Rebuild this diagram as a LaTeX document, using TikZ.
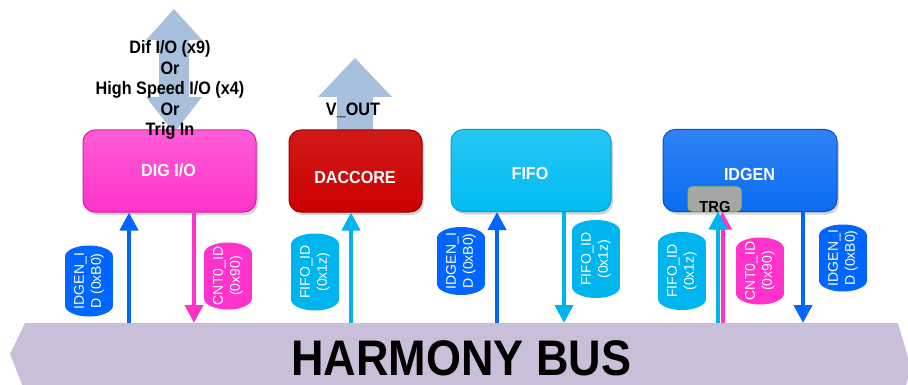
\documentclass[tikz,border=0pt]{standalone}
\usepackage{fontspec}
\setmainfont{Liberation Sans}
\usetikzlibrary{arrows.meta,shadows}

\definecolor{digc}{HTML}{FF33CC}
\definecolor{digd}{HTML}{D81CA8}
\definecolor{dacc}{HTML}{CC0000}
\definecolor{dacd}{HTML}{9A0000}
\definecolor{fifoc}{HTML}{00BCF2}
\definecolor{fifod}{HTML}{0A9ED0}
\definecolor{idgc}{HTML}{0A6CF2}
\definecolor{idgd}{HTML}{0650C0}
\definecolor{pblue}{HTML}{0066FF}
\definecolor{pcyan}{HTML}{00B4EE}
\definecolor{pmag}{HTML}{FF33CC}
\definecolor{bigarrow}{HTML}{A8C0DE}
\definecolor{busc}{HTML}{C9BFD9}
\definecolor{trgc}{HTML}{A6A6A6}
\definecolor{trgd}{HTML}{9BBB59}

% a vertical pill (elliptic ends) with rotated two-line label
\newcommand\idpill[6]{%
  \fill[#5] (#2-24,#3-#4/2+11) rectangle (#2+24,#3+#4/2-11);
  \fill[#5] (#2,#3-#4/2+11) ellipse [x radius=24, y radius=11];
  \fill[#5] (#2,#3+#4/2-11) ellipse [x radius=24, y radius=11];
  \node[pilltext] (#1) at (#2,#3) {#6};}

\begin{document}
\begin{tikzpicture}[x=1pt,y=-1pt,
  block/.style={rectangle, rounded corners=12pt, inner sep=0pt,
    minimum height=82pt, line width=1pt,
    drop shadow={shadow xshift=2pt, shadow yshift=-3pt, opacity=0.35}},
  blocktext/.style={anchor=base, text=white, xscale=0.92,
    font=\bfseries\fontsize{17.5}{20}\selectfont},
  pilltext/.style={rotate=90, text=white, align=center, inner sep=0pt,
    font=\fontsize{14}{17}\selectfont},
  busarrow/.style={line width=4pt, -{Triangle[width=18pt,length=18pt]}},
  blacktext/.style={text=black, xscale=0.9,
    font=\bfseries\fontsize{18}{20.5}\selectfont}]

\useasboundingbox (0,0) rectangle (908,385);

% the bus
\begin{scope}
  \clip (0,0) rectangle (908,385);
  \fill[busc] (25,323) -- (898,323) -- (911,368) -- (904,392)
     -- (25,392) -- (10,354) -- cycle;
\end{scope}
\node[text=black, xscale=0.9, anchor=base,
  font=\bfseries\fontsize{50}{50}\selectfont] (bus) at (461.5,375) {HARMONY BUS};

% wide outlines of external signals
\fill[bigarrow] (174,9) -- (202,40) -- (189,40) -- (189,97) -- (202,97)
  -- (174,133) -- (146,97) -- (159,97) -- (159,40) -- (146,40) -- cycle;
\fill[bigarrow] (355,58) -- (392,97) -- (373,97) -- (373,135)
  -- (337,135) -- (337,97) -- (318,97) -- cycle;

% blocks
\node[block, minimum width=173pt, draw=digd,
  top color=digc!80!white, bottom color=digc] (dig) at (169.5,171) {};
\node[block, minimum width=133pt, draw=dacd,
  top color=dacc!90!white, bottom color=dacc] (dac) at (355.5,171) {};
\node[block, minimum width=160pt, draw=fifod,
  top color=fifoc!85!white, bottom color=fifoc] (fifo) at (531,170.5) {};
\node[block, minimum width=174pt, draw=idgd,
  top color=idgc!85!white, bottom color=idgc] (idgen) at (750,170.5) {};

\node[blocktext] (digt) at (168.5,177) {DIG I/O};
\node[blocktext] (dact) at (355,184) {DACCORE};
\node[blocktext] (fifot) at (530,179) {FIFO};
\node[blocktext] (idgent) at (749.5,180) {IDGEN};

% trigger sub-block
\node[rectangle, rounded corners=4pt, fill=trgc, draw=trgd, line width=1pt,
  minimum width=53pt, minimum height=24pt, inner sep=0pt] (trg) at (714.5,199) {};
\node[anchor=base, text=black, xscale=0.92,
  font=\bfseries\fontsize{16}{18}\selectfont] (trgt) at (715,212) {TRG};

% external signal labels
\node[blacktext, align=center] (dio) at (170,90)
  {Dif I/O (x9)\\Or\\High Speed I/O (x4)\\Or\\Trig In};
\node[blacktext, anchor=base] (vout) at (353,116) {V\_OUT};

% bus taps
\coordinate (t1) at (129,323);
\coordinate (t2) at (194,323);
\coordinate (t3) at (351,323);
\coordinate (t4) at (497,323);
\coordinate (t5) at (564,323);
\coordinate (t6) at (718,323);
\coordinate (t7) at (722.5,323);
\coordinate (t8) at (803,323);

\draw[busarrow, pblue] (t1) -- (t1 |- dig.south);
\draw[busarrow, pmag] (dig.south -| t2) -- (t2);
\draw[busarrow, pcyan] (t3) -- (t3 |- dac.south);
\draw[busarrow, pblue] (t4) -- (t4 |- fifo.south);
\draw[busarrow, pcyan] (fifo.south -| t5) -- (t5);
\draw[busarrow, pmag] (t7) -- (t7 |- trg.south);
\draw[busarrow, pcyan] (t6) -- (t6 |- trg.south);
\draw[busarrow, pblue] (idgen.south -| t8) -- (t8);

% ID tags
\idpill{p1}{89}{281}{71}{pblue}{IDGEN\_I\\D (0xB0)}
\idpill{p2}{228}{276}{67}{pmag}{CNT0\_ID\\(0x90)}
\idpill{p3}{315}{272}{77}{pcyan}{FIFO\_ID\\(0x1z)}
\idpill{p4}{461}{261}{68}{pblue}{IDGEN\_I\\D (0xB0)}
\idpill{p5}{596}{259}{78}{pcyan}{FIFO\_ID\\(0x1z)}
\idpill{p6}{682}{271}{78}{pcyan}{FIFO\_ID\\(0x1z)}
\idpill{p7}{760}{271}{67}{pmag}{CNT0\_ID\\(0x90)}
\idpill{p8}{843}{258}{67}{pblue}{IDGEN\_I\\D (0xB0)}
\end{tikzpicture}
\end{document}
